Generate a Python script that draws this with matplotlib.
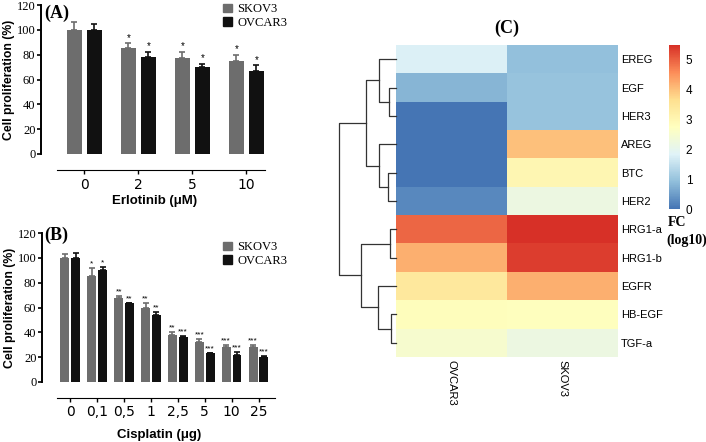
import numpy as np
import matplotlib
matplotlib.use("Agg")
import matplotlib.pyplot as plt
from matplotlib.colors import LinearSegmentedColormap
from matplotlib.patches import Patch

# ---------------------------------------------------------------- data
LINES = ["SKOV3", "OVCAR3"]

erl_doses = ["0", "2", "5", "10"]
erl_skov3 = [100, 85, 77.5, 75]
erl_skov3_err = [6, 4, 4.5, 5]
erl_ovcar3 = [100, 78, 70, 66.5]
erl_ovcar3_err = [5, 4.5, 2.5, 5]
erl_skov3_sig = ["", "*", "*", "*"]
erl_ovcar3_sig = ["", "*", "*", "*"]

cis_doses = ["0", "0,1", "0,5", "1", "2,5", "5", "10", "25"]
cis_skov3 = [100, 85, 68, 59.5, 38, 32.5, 28.5, 28.5]
cis_skov3_err = [3, 7, 1, 4, 2.5, 2.5, 1, 1]
cis_ovcar3 = [100, 90.5, 63.5, 54, 36.5, 23, 21.5, 20]
cis_ovcar3_err = [4, 2.5, 0.5, 2.5, 0.5, 0.5, 3, 1]
cis_skov3_sig = ["", "*", "**", "**", "**", "***", "***", "***"]
cis_ovcar3_sig = ["", "*", "**", "**", "***", "***", "***", "***"]

genes = ["EREG", "EGF", "HER3", "AREG", "BTC", "HER2",
         "HRG1-a", "HRG1-b", "EGFR", "HB-EGF", "TGF-a"]
fc_ovcar3 = [1.8, 0.8, 0.0, 0.0, 0.0, 0.25, 4.95, 4.2, 3.4, 2.8, 2.5]
fc_skov3 = [0.95, 1.0, 1.0, 4.0, 3.0, 2.2, 5.5, 5.35, 4.2, 2.75, 2.2]

# row dendrogram, scipy-like: (child a, child b, height); leaves 0..10
row_linkage = [
    (1, 2, 22), (4, 5, 23), (6, 7, 18), (9, 10, 15),
    (0, 11, 50), (3, 12, 50), (8, 14, 55),
    (15, 16, 91), (13, 17, 105), (18, 19, 171),
]

SKOV_COL = "#6d6d6d"
OVCAR_COL = "#111111"
SERIF = "Liberation Serif"
SANS = "Liberation Sans"

W, H = 706, 442
fig = plt.figure(figsize=(W / 100, H / 100), dpi=100)


def px_axes(x0, y0, x1, y1):
    """axes from pixel box (left, top, right, bottom)"""
    return fig.add_axes([x0 / W, 1 - y1 / H, (x1 - x0) / W, (y1 - y0) / H])


def bar_panel(ax, doses, s_val, s_err, o_val, o_err, s_sig, o_sig,
              width, off, xlim, xline, xlabel, star_size):
    x = np.arange(len(doses))
    for vals, errs, sig, sh, col in [(s_val, s_err, s_sig, -off, SKOV_COL),
                                     (o_val, o_err, o_sig, off, OVCAR_COL)]:
        ax.bar(x + sh, vals, width, color=col, zorder=2)
        ax.errorbar(x + sh, vals, yerr=[np.zeros(len(vals)), errs], fmt="none",
                    ecolor=col, elinewidth=1.2, capsize=2.5, capthick=1.2, zorder=2)
        for xi, v, e, s in zip(x + sh, vals, errs, sig):
            if s:
                ax.text(xi, v + e + 0.5, s, ha="center", va="bottom",
                        fontsize=star_size, family=SANS)
    ax.set_xlim(*xlim)
    ax.set_ylim(0, 120)
    ax.set_yticks(range(0, 121, 20))
    ax.set_xticks(x)
    ax.set_xticklabels(doses, family=SERIF, fontsize=9.5)
    for t in ax.get_yticklabels():
        t.set_family(SERIF)
        t.set_fontsize(9)
    ax.spines[["top", "right"]].set_visible(False)
    ax.spines["bottom"].set_position(("outward", 11.5))
    ax.spines["bottom"].set_bounds(*xline)
    ax.spines["left"].set_linewidth(1.4)
    ax.tick_params(axis="y", length=3, width=1.2, pad=1)
    ax.tick_params(axis="x", length=3, width=1, pad=3)
    ax.set_ylabel("Cell proliferation (%)", family=SANS, fontweight="bold",
                  fontsize=8.8, labelpad=1)
    ax.set_xlabel(xlabel, family=SANS, fontweight="bold", fontsize=9.5, labelpad=2)


def add_legend(ax, y_px):
    ax.legend(handles=[Patch(color=SKOV_COL, label=LINES[0]),
                       Patch(color=OVCAR_COL, label=LINES[1])],
              loc="center left", bbox_to_anchor=(212 / W, 1 - y_px / H),
              bbox_transform=fig.transFigure, frameon=False,
              prop={"family": SERIF, "size": 9}, handlelength=0.7,
              handleheight=0.7, handletextpad=0.4, labelspacing=0.1)


# ---------------------------------------------------------------- panel A
axA = px_axes(41, 5, 268, 154)
bar_panel(axA, erl_doses, erl_skov3, erl_skov3_err, erl_ovcar3, erl_ovcar3_err,
          erl_skov3_sig, erl_ovcar3_sig, 0.28, 0.185, (-0.8, 3.4), (-0.5, 3.35),
          "Erlotinib (μM)", 7)
fig.text(44 / W, 1 - 13 / H, "(A)", family=SERIF, fontweight="bold",
         fontsize=13, va="center")
add_legend(axA, 16)

# ---------------------------------------------------------------- panel B
axB = px_axes(42, 233, 276, 382)
bar_panel(axB, cis_doses, cis_skov3, cis_skov3_err, cis_ovcar3, cis_ovcar3_err,
          cis_skov3_sig, cis_ovcar3_sig, 0.33, 0.2, (-1.05, 7.65), (-0.5, 7.6),
          "Cisplatin (μg)", 6)
axB.tick_params(axis="x", pad=2)
axB.xaxis.labelpad = 7
fig.text(44 / W, 1 - 235 / H, "(B)", family=SERIF, fontweight="bold",
         fontsize=13, va="center")
add_legend(axB, 254)

# ---------------------------------------------------------------- panel C
cmap = LinearSegmentedColormap.from_list(
    "ph", ["#4575B4", "#91BFDB", "#E0F3F8", "#FFFFBF", "#FEE090", "#FC8D59", "#D73027"])
mat = np.column_stack([fc_ovcar3, fc_skov3])

axH = px_axes(396, 45, 618, 357)
im = axH.imshow(mat, cmap=cmap, vmin=0, vmax=5.5, aspect="auto",
                interpolation="nearest")
axH.set_xticks([0, 1])
axH.set_xticklabels(["OVCAR3", "SKOV3"], rotation=-90, family=SANS, fontsize=8)
axH.set_yticks(range(len(genes)))
axH.set_yticklabels(genes, family=SANS, fontsize=8)
axH.yaxis.tick_right()
axH.tick_params(length=0, pad=2)
for s in axH.spines.values():
    s.set_visible(False)
fig.text(507 / W, 1 - 28 / H, "(C)", family=SERIF, fontweight="bold",
         fontsize=13, ha="center", va="center")

# dendrogram
axD = px_axes(339, 45, 396, 357)
pos = {i: (i, 0.0) for i in range(len(genes))}
for k, (a, b, h) in enumerate(row_linkage):
    ya, ha = pos[a]
    yb, hb = pos[b]
    axD.plot([ha, h, h, hb], [ya, ya, yb, yb], color="#333333", lw=0.9,
             clip_on=False)
    pos[len(genes) + k] = ((ya + yb) / 2, h)
axD.set_xlim(171, 0)
axD.set_ylim(len(genes) - 0.5, -0.5)
axD.axis("off")

# colorbar
axC = px_axes(669, 45, 680, 209)
cb = fig.colorbar(im, cax=axC)
cb.outline.set_visible(False)
cb.set_ticks(range(6))
axC.tick_params(length=0, pad=4, labelsize=8.5)
for t in axC.get_yticklabels():
    t.set_family(SANS)
fig.text(668 / W, 1 - 222 / H, "FC", family=SERIF, fontweight="bold",
         fontsize=10, va="center")
fig.text(666 / W, 1 - 240 / H, "(log10)", family=SERIF, fontweight="bold",
         fontsize=10, va="center")

fig.savefig("out.png", dpi=100)
